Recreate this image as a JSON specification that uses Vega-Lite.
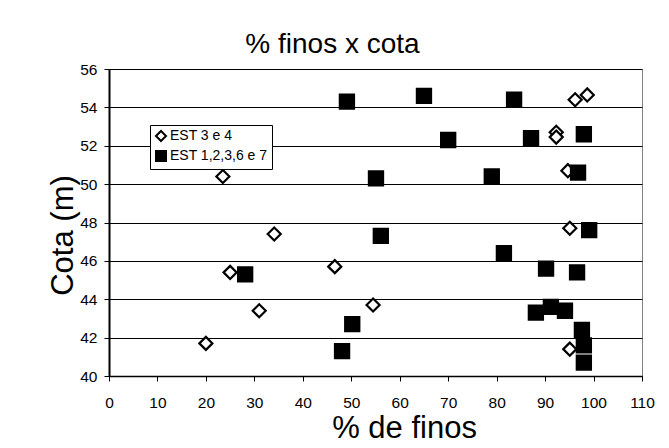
{
  "$schema": "https://vega.github.io/schema/vega-lite/v6.json",
  "width": 533,
  "height": 307,
  "autosize": {"type": "none"},
  "padding": {"left": 109, "top": 69, "right": 27, "bottom": 72},
  "background": "white",
  "title": {"text": "% finos x cota", "fontSize": 28, "font": "Liberation Sans", "fontWeight": "normal", "color": "black", "frame": "group", "anchor": "middle", "baseline": "alphabetic", "offset": 16, "dx": -43, "dy": 35},
  "config": {
    "font": "Liberation Sans",
    "view": {"stroke": "#808080", "strokeWidth": 1},
    "axis": {"labelFont": "Liberation Sans", "labelColor": "black", "labelFontSize": 15.5, "titleFont": "Liberation Sans", "titleFontWeight": "normal", "titleColor": "black", "titleFontSize": 31, "domainColor": "black", "tickColor": "black", "tickSize": 5}
  },
  "data": {"values": [
    {"finos": 20.0, "cota": 41.7, "serie": "EST 3 e 4"},
    {"finos": 23.5, "cota": 50.4, "serie": "EST 3 e 4"},
    {"finos": 25.0, "cota": 45.4, "serie": "EST 3 e 4"},
    {"finos": 31.0, "cota": 43.4, "serie": "EST 3 e 4"},
    {"finos": 34.1, "cota": 47.4, "serie": "EST 3 e 4"},
    {"finos": 46.6, "cota": 45.7, "serie": "EST 3 e 4"},
    {"finos": 54.5, "cota": 43.7, "serie": "EST 3 e 4"},
    {"finos": 92.3, "cota": 52.7, "serie": "EST 3 e 4"},
    {"finos": 92.3, "cota": 52.45, "serie": "EST 3 e 4"},
    {"finos": 94.7, "cota": 50.7, "serie": "EST 3 e 4"},
    {"finos": 95.1, "cota": 47.7, "serie": "EST 3 e 4"},
    {"finos": 95.1, "cota": 41.4, "serie": "EST 3 e 4"},
    {"finos": 96.2, "cota": 54.4, "serie": "EST 3 e 4"},
    {"finos": 98.7, "cota": 54.65, "serie": "EST 3 e 4"},
    {"finos": 28.1, "cota": 45.3, "serie": "EST 1,2,3,6 e 7"},
    {"finos": 48.1, "cota": 41.3, "serie": "EST 1,2,3,6 e 7"},
    {"finos": 49.1, "cota": 54.3, "serie": "EST 1,2,3,6 e 7"},
    {"finos": 50.2, "cota": 42.7, "serie": "EST 1,2,3,6 e 7"},
    {"finos": 55.1, "cota": 50.3, "serie": "EST 1,2,3,6 e 7"},
    {"finos": 56.1, "cota": 47.3, "serie": "EST 1,2,3,6 e 7"},
    {"finos": 65.0, "cota": 54.6, "serie": "EST 1,2,3,6 e 7"},
    {"finos": 70.0, "cota": 52.3, "serie": "EST 1,2,3,6 e 7"},
    {"finos": 79.0, "cota": 50.4, "serie": "EST 1,2,3,6 e 7"},
    {"finos": 81.5, "cota": 46.4, "serie": "EST 1,2,3,6 e 7"},
    {"finos": 83.6, "cota": 54.4, "serie": "EST 1,2,3,6 e 7"},
    {"finos": 87.1, "cota": 52.4, "serie": "EST 1,2,3,6 e 7"},
    {"finos": 88.1, "cota": 43.3, "serie": "EST 1,2,3,6 e 7"},
    {"finos": 90.2, "cota": 45.6, "serie": "EST 1,2,3,6 e 7"},
    {"finos": 91.2, "cota": 43.6, "serie": "EST 1,2,3,6 e 7"},
    {"finos": 94.1, "cota": 43.4, "serie": "EST 1,2,3,6 e 7"},
    {"finos": 96.6, "cota": 45.4, "serie": "EST 1,2,3,6 e 7"},
    {"finos": 96.8, "cota": 50.6, "serie": "EST 1,2,3,6 e 7"},
    {"finos": 98.0, "cota": 52.6, "serie": "EST 1,2,3,6 e 7"},
    {"finos": 99.1, "cota": 47.6, "serie": "EST 1,2,3,6 e 7"},
    {"finos": 97.6, "cota": 42.4, "serie": "EST 1,2,3,6 e 7"},
    {"finos": 98.0, "cota": 41.6, "serie": "EST 1,2,3,6 e 7"},
    {"finos": 98.0, "cota": 40.7, "serie": "EST 1,2,3,6 e 7"}
  ]},
  "mark": {"type": "point", "filled": true, "strokeWidth": 2.2, "opacity": 1},
  "encoding": {
    "x": {"field": "finos", "type": "quantitative", "title": "% de finos",
      "scale": {"domain": [0, 110], "nice": false, "zero": false},
      "axis": {"values": [0, 10, 20, 30, 40, 50, 60, 70, 80, 90, 100, 110], "grid": false, "labelPadding": 14, "domainWidth": 1.5, "labelFlush": false, "titleX": 295, "titleY": 61, "titleAlign": "center", "titleBaseline": "alphabetic"}},
    "y": {"field": "cota", "type": "quantitative", "title": "Cota (m)",
      "scale": {"domain": [40, 56], "nice": false, "zero": false},
      "axis": {"values": [40, 42, 44, 46, 48, 50, 52, 54, 56], "grid": true, "gridColor": "black", "gridOpacity": 1, "gridWidth": 1, "labelPadding": 7, "domainWidth": 2, "labelFlush": false, "titleX": -37, "titleY": 166, "titleAngle": -90, "titleAlign": "center", "titleBaseline": "alphabetic"}},
    "shape": {"field": "serie", "type": "nominal", "title": null,
      "scale": {"domain": ["EST 3 e 4", "EST 1,2,3,6 e 7"], "range": ["diamond", "square"]},
      "legend": {"orient": "none", "legendX": 41, "legendY": 56, "strokeColor": "black", "fillColor": "white", "padding": 4, "labelFontSize": 14, "labelFont": "Liberation Sans", "labelColor": "black", "symbolSize": 100, "symbolStrokeWidth": 2, "rowPadding": 2, "labelOffset": 2}},
    "fill": {"field": "serie", "type": "nominal", "title": null,
      "scale": {"domain": ["EST 3 e 4", "EST 1,2,3,6 e 7"], "range": ["white", "black"]}},
    "stroke": {"field": "serie", "type": "nominal", "title": null,
      "scale": {"domain": ["EST 3 e 4", "EST 1,2,3,6 e 7"], "range": ["black", "black"]}},
    "size": {"condition": {"test": "datum.serie == 'EST 3 e 4'", "value": 170}, "value": 200}
  }
}
